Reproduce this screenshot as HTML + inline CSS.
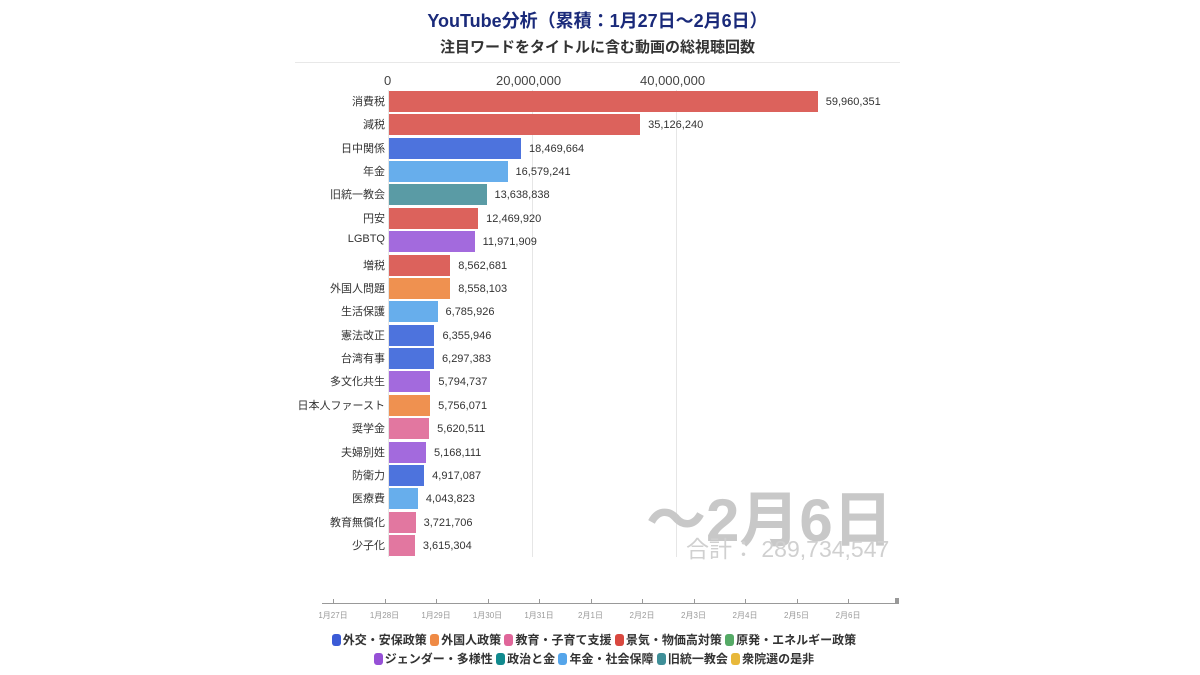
<!DOCTYPE html>
<html><head><meta charset="utf-8"><style>
body{margin:0;width:1200px;height:675px;background:#fff;font-family:"Liberation Sans","Noto Sans CJK JP",sans-serif;position:relative;overflow:hidden}
.a{position:absolute;white-space:nowrap}
.lbl{position:absolute;right:815px;font-size:11px;color:#333;text-align:right}
.bar{position:absolute;left:389px;height:21px}
.val{position:absolute;font-size:11px;color:#333}
.tk{position:absolute;top:610px;font-size:8px;color:#999;transform:translateX(-50%)}
.tl{position:absolute;top:599px;width:1px;height:5px;background:#999}
.lg{font-size:12px;font-weight:bold;color:#333}
.sw{display:inline-block;width:9px;height:12px;border-radius:3px;vertical-align:-2px;margin-right:2px}
</style></head><body>
<div class="a" style="left:0;width:1195px;text-align:center;top:7px;font-size:18px;font-weight:bold;color:#1a2a7a">YouTube分析（累積：1月27日〜2月6日）</div>
<div class="a" style="left:0;width:1195px;text-align:center;top:36px;font-size:15px;font-weight:bold;color:#333">注目ワードをタイトルに含む動画の総視聴回数</div>
<div class="a" style="left:295px;top:62px;width:605px;height:1px;background:#e8e8e8"></div>
<div class="a" style="left:384px;top:73px;font-size:13px;color:#444">0</div>
<div class="a" style="left:496px;top:73px;font-size:13px;color:#444">20,000,000</div>
<div class="a" style="left:640px;top:73px;font-size:13px;color:#444">40,000,000</div>
<div class="a" style="left:532px;top:90px;width:1px;height:467px;background:#e6e6e6"></div>
<div class="a" style="left:676px;top:90px;width:1px;height:467px;background:#e6e6e6"></div>
<div class="a" style="left:388px;top:90px;width:1px;height:467px;background:#e6e6e6"></div>
<div class="a" style="left:646px;top:472px;font-size:60px;font-weight:bold;color:#c8c8c8">〜2月6日</div>
<div class="a" style="left:686px;top:530px;font-size:23px;color:#d0d0d0">合計： 289,734,547</div>
<div id="bars"></div>
<div class="a" style="left:322px;top:603px;width:576px;height:1px;background:#999"></div>
<div class="a" style="left:895px;top:598px;width:4px;height:6px;background:#999"></div>
<div id="tl"></div>
<div class="a lg" style="left:0;width:1188px;text-align:center;top:631px">
<span class="sw" style="background:#3b5bd6"></span>外交・安保政策 <span class="sw" style="background:#ef8a45"></span>外国人政策 <span class="sw" style="background:#e0669a"></span>教育・子育て支援 <span class="sw" style="background:#d9483f"></span>景気・物価高対策 <span class="sw" style="background:#55aa66"></span>原発・エネルギー政策</div>
<div class="a lg" style="left:0;width:1188px;text-align:center;top:650px">
<span class="sw" style="background:#9650d6"></span>ジェンダー・多様性 <span class="sw" style="background:#118a8e"></span>政治と金 <span class="sw" style="background:#55a5ea"></span>年金・社会保障 <span class="sw" style="background:#3f8f98"></span>旧統一教会 <span class="sw" style="background:#e8b83a"></span>衆院選の是非</div>
<script>
var R="#dc625c",B="#4d73dd",L="#67aeec",T="#5a9ba5",P="#a36add",O="#ef9150",K="#e277a0";
var d=[["消費税",59960351,R],["減税",35126240,R],["日中関係",18469664,B],["年金",16579241,L],["旧統一教会",13638838,T],["円安",12469920,R],["LGBTQ",11971909,P],["増税",8562681,R],["外国人問題",8558103,O],["生活保護",6785926,L],["憲法改正",6355946,B],["台湾有事",6297383,B],["多文化共生",5794737,P],["日本人ファースト",5756071,O],["奨学金",5620511,K],["夫婦別姓",5168111,P],["防衛力",4917087,B],["医療費",4043823,L],["教育無償化",3721706,K],["少子化",3615304,K]];
var h="";d.forEach(function(r,i){var y=91+i*23.37,w=r[1]/20000000*143;
h+='<div class="lbl" style="top:'+(y+2)+'px">'+r[0]+'</div><div class="bar" style="top:'+y+'px;width:'+w+'px;background:'+r[2]+'"></div><div class="val" style="top:'+(y+5)+'px;left:'+(389+w+8)+'px">'+r[1].toLocaleString("en-US")+'</div>';});
document.getElementById("bars").innerHTML=h;
var t="",n=["1月27日","1月28日","1月29日","1月30日","1月31日","2月1日","2月2日","2月3日","2月4日","2月5日","2月6日"];
n.forEach(function(s,i){var x=333+i*51.5;t+='<div class="tl" style="left:'+x+'px"></div><div class="tk" style="left:'+x+'px">'+s+'</div>';});
document.getElementById("tl").innerHTML=t;
</script>
</body></html>
